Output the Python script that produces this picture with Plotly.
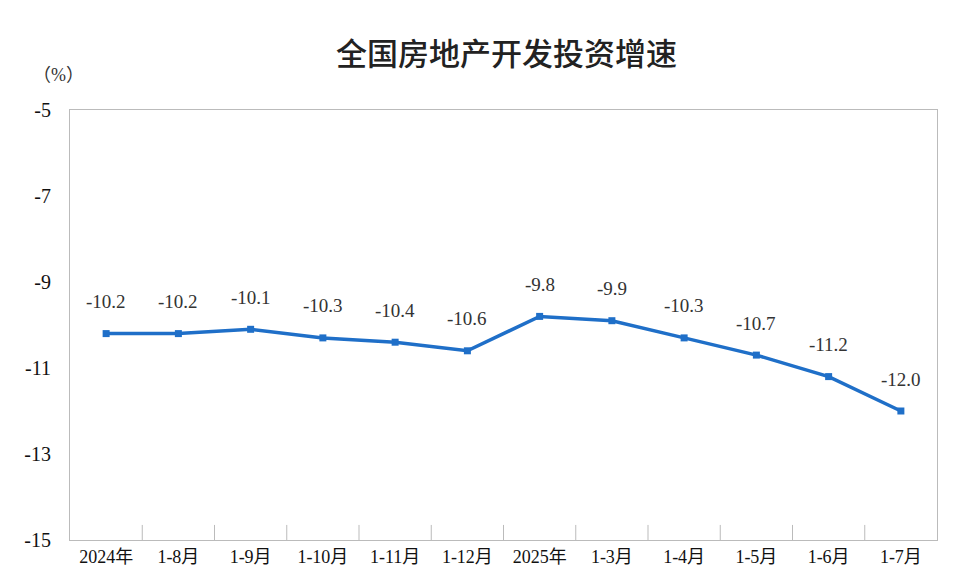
import plotly.graph_objects as go

# данные
months = ["2024年", "1-8月", "1-9月", "1-10月", "1-11月", "1-12月",
          "2025年", "1-3月", "1-4月", "1-5月", "1-6月", "1-7月"]
growth = [-10.2, -10.2, -10.1, -10.3, -10.4, -10.6, -9.8, -9.9, -10.3, -10.7, -11.2, -12.0]
y_ticks = [-15, -13, -11, -9, -7, -5]

serif = "Liberation Serif, Noto Sans CJK SC"

fig = go.Figure()
fig.add_trace(go.Scatter(
    x=list(range(len(months))), y=growth,
    mode="lines+markers",
    line=dict(color="#1f6fc8", width=3.5),
    marker=dict(symbol="square", size=7, color="#1f6fc8"),
    cliponaxis=False,
))
# подписи значений
for i, v in enumerate(growth):
    fig.add_annotation(x=i, y=v, text="%.1f" % v, showarrow=False, yshift=32,
                       font=dict(family=serif, size=19, color="#333"))

fig.update_layout(
    width=968, height=574,
    paper_bgcolor="white", plot_bgcolor="white",
    margin=dict(l=62, r=39, t=102, b=42),
    showlegend=False,
    title=dict(text="全国房地产开发投资增速", x=0.515, y=0.92, xanchor="center", yanchor="middle",
               font=dict(family="Noto Sans CJK SC", size=31, color="#222", weight=500)),
    font=dict(family=serif, size=18, color="#111"),
)
fig.add_annotation(text="（%）", xref="paper", yref="paper", x=-0.045, y=1.11,
                   showarrow=False, xanchor="left",
                   font=dict(family=serif, size=18, color="#333"))
fig.update_xaxes(
    range=[-0.5, len(months) - 0.5], automargin=False,
    tickvals=list(range(len(months))), ticktext=months,
    showgrid=False, showline=True, linecolor="#bbb", mirror=True,
    ticks="", zeroline=False,
)
for i in range(1, len(months)):
    fig.add_shape(type="line", xref="x", yref="paper", x0=i - 0.5, x1=i - 0.5, y0=0, y1=0.035,
                  line=dict(color="#bbb", width=1))
fig.update_yaxes(
    range=[-15, -5], tickvals=y_ticks, ticktext=[str(v) for v in y_ticks], automargin=False,
    showgrid=False, showline=True, linecolor="#bbb", mirror=True,
    ticks="", zeroline=False, tickfont=dict(size=20), ticklabelstandoff=14,
)

fig.write_html("out.html")
